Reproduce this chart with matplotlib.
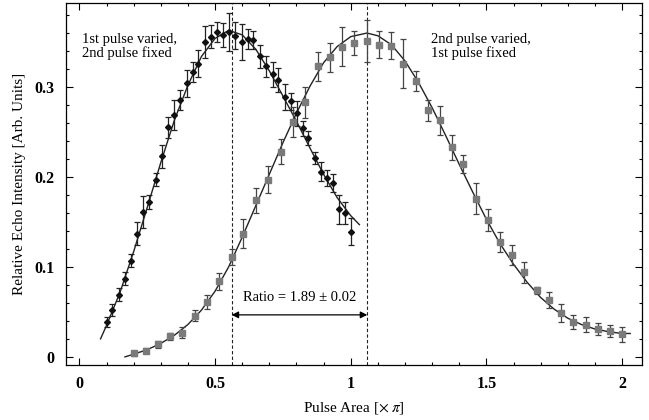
import matplotlib
matplotlib.use("Agg")
import matplotlib.pyplot as plt
from matplotlib.ticker import MultipleLocator

plt.rcParams['font.family'] = ['Liberation Serif', 'DejaVu Serif']
plt.rcParams['mathtext.fontset'] = 'stix'

# 1st pulse varied, 2nd pulse fixed (black diamonds)
first_x = [0.100, 0.122, 0.145, 0.168, 0.190, 0.213, 0.235, 0.257, 0.281, 0.303,
           0.325, 0.348, 0.371, 0.395, 0.417, 0.438, 0.463, 0.485, 0.506, 0.530,
           0.552, 0.573, 0.598, 0.620, 0.641, 0.666, 0.688, 0.712, 0.733, 0.758,
           0.780, 0.803, 0.823, 0.844, 0.868, 0.890, 0.914, 0.936, 0.958, 0.980,
           1.001]
first_y = [0.039, 0.052, 0.069, 0.087, 0.107, 0.137, 0.161, 0.172, 0.197, 0.223,
           0.255, 0.269, 0.286, 0.304, 0.317, 0.326, 0.350, 0.356, 0.361, 0.358,
           0.361, 0.357, 0.350, 0.353, 0.352, 0.334, 0.323, 0.314, 0.308, 0.289,
           0.284, 0.271, 0.254, 0.243, 0.221, 0.206, 0.199, 0.193, 0.164, 0.160,
           0.139]
first_err = [0.0055, 0.0067, 0.0074, 0.0074, 0.0074, 0.013, 0.018, 0.008, 0.0074, 0.013,
             0.012, 0.017, 0.011, 0.015, 0.011, 0.015, 0.018, 0.013, 0.011, 0.013,
             0.021, 0.015, 0.020, 0.011, 0.010, 0.013, 0.012, 0.014, 0.013, 0.014,
             0.009, 0.014, 0.008, 0.008, 0.007, 0.011, 0.009, 0.010, 0.016, 0.012,
             0.015]

# 2nd pulse varied, 1st pulse fixed (gray squares)
second_x = [0.201, 0.245, 0.288, 0.334, 0.379, 0.425, 0.469, 0.516, 0.561, 0.604,
            0.651, 0.696, 0.742, 0.786, 0.832, 0.878, 0.924, 0.969, 1.013, 1.059,
            1.104, 1.148, 1.194, 1.240, 1.283, 1.329, 1.372, 1.415, 1.462, 1.507,
            1.550, 1.596, 1.640, 1.686, 1.729, 1.775, 1.821, 1.867, 1.911, 1.956,
            2.001]
second_y = [0.004, 0.007, 0.014, 0.023, 0.027, 0.046, 0.061, 0.084, 0.111, 0.137,
            0.174, 0.197, 0.228, 0.261, 0.283, 0.323, 0.333, 0.345, 0.349, 0.351,
            0.347, 0.346, 0.326, 0.307, 0.274, 0.263, 0.233, 0.214, 0.176, 0.152,
            0.128, 0.113, 0.094, 0.074, 0.063, 0.049, 0.039, 0.036, 0.031, 0.029,
            0.025]
second_err = [0.003, 0.003, 0.004, 0.004, 0.006, 0.0065, 0.008, 0.0096, 0.009, 0.016,
              0.014, 0.015, 0.014, 0.017, 0.017, 0.016, 0.016, 0.022, 0.013, 0.023,
              0.015, 0.015, 0.027, 0.011, 0.012, 0.016, 0.014, 0.010, 0.017, 0.012,
              0.011, 0.011, 0.012, 0.004, 0.009, 0.010, 0.008, 0.008, 0.007, 0.0065,
              0.008]

# fitted curves
fit1_x = [0.078, 0.10, 0.15, 0.20, 0.25, 0.30, 0.35, 0.40, 0.45, 0.50, 0.55,
          0.60, 0.65, 0.70, 0.75, 0.80, 0.85, 0.90, 0.95, 1.00, 1.032]
fit1_y = [0.020, 0.035, 0.072, 0.117, 0.166, 0.216, 0.263, 0.302, 0.334, 0.354, 0.363,
          0.358, 0.342, 0.318, 0.290, 0.262, 0.232, 0.203, 0.177, 0.157, 0.147]
fit2_x = [0.168, 0.20, 0.25, 0.30, 0.35, 0.40, 0.45, 0.50, 0.55, 0.60, 0.65, 0.70,
          0.75, 0.80, 0.85, 0.90, 0.95, 1.00, 1.06, 1.10, 1.15, 1.20, 1.25, 1.30,
          1.35, 1.40, 1.45, 1.50, 1.55, 1.60, 1.65, 1.70, 1.75, 1.80, 1.85, 1.90,
          1.95, 2.00, 2.03]
fit2_y = [0.000, 0.003, 0.008, 0.015, 0.024, 0.036, 0.052, 0.073, 0.100, 0.133, 0.168,
          0.203, 0.238, 0.271, 0.301, 0.327, 0.345, 0.356, 0.360, 0.357, 0.347, 0.329,
          0.305, 0.277, 0.246, 0.214, 0.183, 0.153, 0.126, 0.103, 0.083, 0.066, 0.053,
          0.043, 0.036, 0.031, 0.028, 0.026, 0.026]

# pulse areas at the two maxima
peak1 = 0.561
peak2 = 1.061
ratio_label = 'Ratio = 1.89 ± 0.02'

fig = plt.figure(figsize=(6.49, 4.20), dpi=100)
ax = fig.add_axes([0.101, 0.131, 0.888, 0.861])

ax.plot(fit1_x, fit1_y, color='#222222', lw=1.0, zorder=2)
ax.plot(fit2_x, fit2_y, color='#222222', lw=1.0, zorder=2)

ax.errorbar(first_x, first_y, yerr=first_err, fmt='D', ms=3, color='#111111',
            ecolor='#222222', elinewidth=0.9, capsize=2.5, capthick=0.9, zorder=3)
ax.errorbar(second_x, second_y, yerr=second_err, fmt='s', ms=4.5, color='#7a7a7a',
            ecolor='#444444', elinewidth=0.9, capsize=2.5, capthick=0.9, zorder=3)

ax.axvline(peak1, color='#222222', lw=0.8, ls=(0, (3, 2)), zorder=1)
ax.axvline(peak2, color='#222222', lw=0.8, ls=(0, (3, 2)), zorder=1)

ax.annotate('', xy=(peak1, 0.0467), xytext=(peak2, 0.0467),
            arrowprops=dict(arrowstyle='<|-|>', color='black', lw=0.9,
                            mutation_scale=10, shrinkA=0, shrinkB=0))
ax.text((peak1 + peak2) / 2, 0.0656, ratio_label, ha='center', va='center', fontsize=10.5)

ax.text(0.01, 0.345, '1st pulse varied,\n2nd pulse fixed', ha='left', va='center',
        fontsize=10.5, linespacing=1.05)
ax.text(1.295, 0.345, '2nd pulse varied,\n1st pulse fixed', ha='left', va='center',
        fontsize=10.5, linespacing=1.05)

ax.set_xlim(-0.051, 2.073)
ax.set_ylim(-0.009, 0.393)
ax.xaxis.set_major_locator(MultipleLocator(0.5))
ax.xaxis.set_minor_locator(MultipleLocator(0.1))
ax.yaxis.set_major_locator(MultipleLocator(0.1))
ax.yaxis.set_minor_locator(MultipleLocator(0.02))
ax.set_xticks([0, 0.5, 1, 1.5, 2])
ax.set_xticklabels(['0', '0.5', '1', '1.5', '2'])
ax.set_yticks([0, 0.1, 0.2, 0.3])
ax.set_yticklabels(['0', '0.1', '0.2', '0.3'])
ax.tick_params(which='both', direction='in', top=True, right=True, labelsize=11.5, width=0.8)
ax.tick_params(which='major', length=5, pad=8)
ax.tick_params(which='minor', length=2.5)
for lbl in ax.get_xticklabels() + ax.get_yticklabels():
    lbl.set_fontweight('bold')
for s in ax.spines.values():
    s.set_linewidth(0.9)

ax.set_xlabel(r'Pulse Area [$\times\;\pi$]', fontsize=11, labelpad=6)
ax.set_ylabel('Relative Echo Intensity [Arb. Units]', fontsize=11, labelpad=6)

fig.savefig('out.png', dpi=100)
